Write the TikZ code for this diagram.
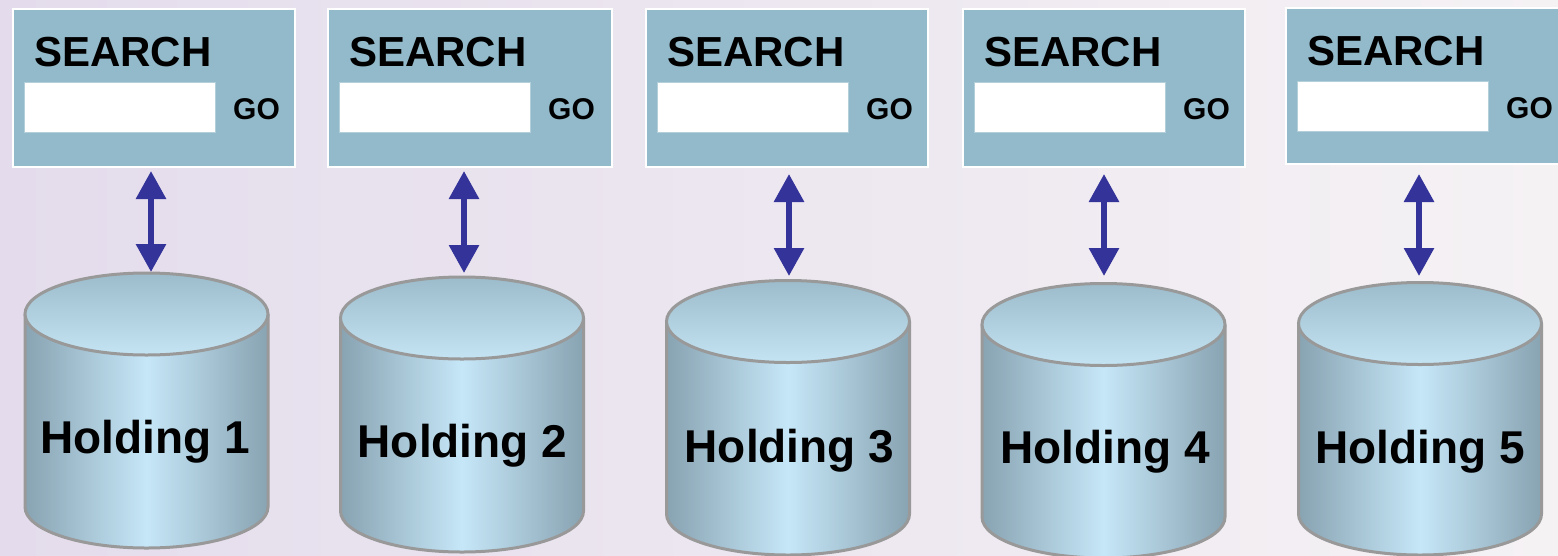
\documentclass[tikz,border=0pt]{standalone}
\usepackage{fontspec}
\setmainfont{Liberation Sans}
\usetikzlibrary{arrows.meta}
\definecolor{bgL}{HTML}{E4DCEC}
\definecolor{bgR}{HTML}{F5F2F4}
\definecolor{boxfill}{HTML}{93BACA}
\definecolor{arrowblue}{HTML}{333399}
\definecolor{cylEdge}{HTML}{88A3B2}
\definecolor{cylMid}{HTML}{C6E7F8}
\definecolor{topDark}{HTML}{9CBCCB}
\definecolor{topLight}{HTML}{C4E4F3}
\definecolor{cylLine}{HTML}{999999}
\tikzset{
  searchbox/.style={draw=white, line width=2pt, fill=boxfill, anchor=north west, inner sep=0pt},
  fieldbox/.style={draw=boxfill!70!white, line width=0.8pt, fill=white, anchor=north west, inner sep=0pt},
  searchtxt/.style={anchor=base west, inner sep=0pt, font=\bfseries\fontsize{42}{44}\selectfont},
  gotxt/.style={anchor=base west, inner sep=0pt, font=\bfseries\fontsize{30}{32}\selectfont},
  holdtxt/.style={anchor=base, inner sep=0pt, font=\bfseries\fontsize{46}{50}\selectfont},
  duplex/.style={arrowblue, line width=6pt, {Triangle[width=29pt,length=28pt]}-{Triangle[width=29pt,length=28pt]}},
  cylbody/.style={left color=cylEdge, right color=cylEdge, middle color=cylMid},
  cyltop/.style={top color=topDark, bottom color=topLight},
  cylline/.style={draw=cylLine, line width=3pt}
}
\begin{document}
\begin{tikzpicture}[x=1pt, y=-1pt]
\useasboundingbox (0,0) rectangle (1558,555);
\clip (0,0) rectangle (1558,555);
\fill[left color=bgL, right color=bgR] (0,0) rectangle (1558,555);
% search boxes
\foreach \i/\L/\T/\W/\H in {1/12/8/282/158, 2/327/8/284/158, 3/645/8/282/158, 4/962/8/282/158, 5/1285/7/290/156}{
  \node[searchbox, minimum width=\W pt, minimum height=\H pt] (s\i) at (\L,\T) {};
  \node[fieldbox, minimum width=191pt, minimum height=50pt] (f\i) at (\L+11.5,\T+74) {};
  \node[searchtxt] (st\i) at (\L+22,\T+58) {SEARCH};
  \node[gotxt] (go\i) at (\L+221,\T+111) {GO};
}
% cylinders
\foreach \i/\cx/\ty/\by/\lx/\ly in {1/146.5/314/507/145/453, 2/462/318/511/462.5/457, 3/788/321.5/514/789.5/462, 4/1103.5/324.5/517/1105/463, 5/1420/323.5/514/1420/463}{
  \path[cylbody] (\cx-121.5,\ty) -- (\cx-121.5,\by) arc[start angle=180, end angle=0, x radius=121.5, y radius=41] -- (\cx+121.5,\ty) -- cycle;
  \draw[cylline] (\cx-121.5,\ty) -- (\cx-121.5,\by) arc[start angle=180, end angle=0, x radius=121.5, y radius=41] -- (\cx+121.5,\ty);
  \draw[cylline, cyltop] (\cx,\ty) ellipse[x radius=121.5, y radius=41];
  \coordinate (c\i) at (\cx,\ty-41);
  \node[holdtxt] (h\i) at (\lx,\ly) {Holding \i};
}
% connectors
\foreach \i/\ax/\ya/\yb in {1/151/171/272, 2/464/171/273, 3/789/174/276, 4/1104/174/276, 5/1419/174/276}{
  \coordinate (au\i) at (\ax,\ya);
  \coordinate (ad\i) at (\ax,\yb);
  \draw[duplex] (au\i) -- (ad\i);
}
\end{tikzpicture}
\end{document}
